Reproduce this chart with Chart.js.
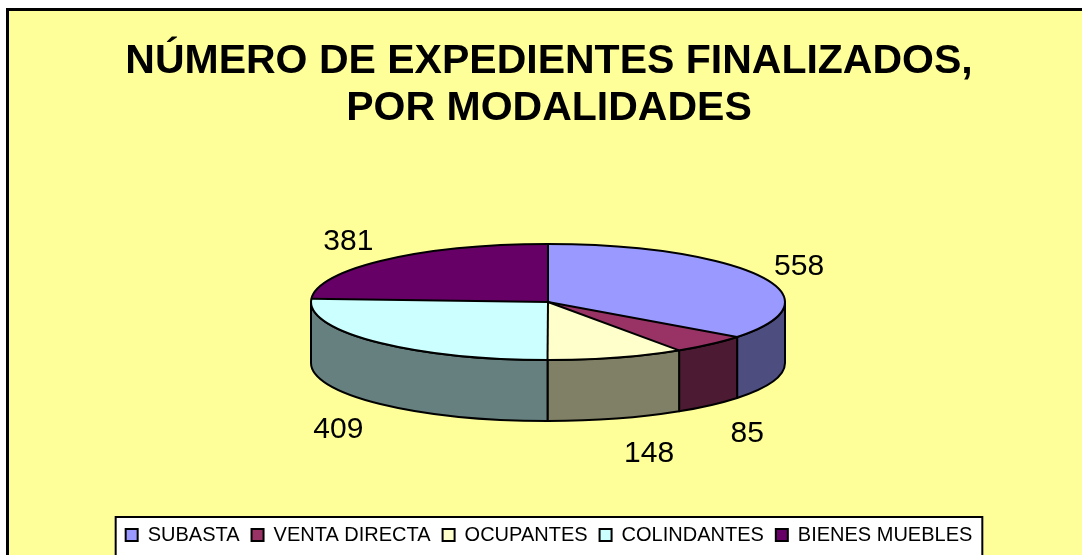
<!DOCTYPE html>
<html><head><meta charset="utf-8">
<script src="https://cdn.jsdelivr.net/npm/chart.js@4.4.0/dist/chart.umd.min.js"></script>
<style>html,body{margin:0;padding:0;background:#fff;overflow:hidden}#wrap{width:1082px;height:555px}</style>
</head><body><div id="wrap"><canvas id="c" width="1082" height="555"></canvas></div>
<script>
const categories = ['SUBASTA', 'VENTA DIRECTA', 'OCUPANTES', 'COLINDANTES', 'BIENES MUEBLES'];
const values = [558, 85, 148, 409, 381];
const topColors = ['#9999FF', '#993366', '#FFFFCC', '#CCFFFF', '#660066'];
const sideColors = ['#4D4D80', '#4D1A33', '#808066', '#668080', '#330033'];
const titleLines = ['NÚMERO DE EXPEDIENTES FINALIZADOS,', 'POR MODALIDADES'];

const FONT = '"Liberation Sans", Arial, Helvetica, sans-serif';
const geo = {cx: 548, cy: 302, rx: 237, ry: 58, depth: 61};

const panelPlugin = {
  id: 'panel',
  beforeDraw(chart) {
    const ctx = chart.ctx;
    ctx.save();
    ctx.fillStyle = '#fff';
    ctx.fillRect(0, 0, chart.width, chart.height);
    ctx.fillStyle = '#FFFF99';
    ctx.fillRect(8, 10, chart.width, chart.height);
    ctx.strokeStyle = '#000';
    ctx.lineWidth = 3;
    ctx.strokeRect(7.5, 9.5, chart.width + 20, chart.height + 20);
    const hb = chart.legend && chart.legend.legendHitBoxes;
    if (hb && hb.length) {
      const first = hb[0], last = hb[hb.length - 1];
      const l = first.left - 10, r = last.left + last.width + 10, t = first.top - 8;
      ctx.fillStyle = '#fff';
      ctx.fillRect(l, t, r - l, chart.height);
      ctx.lineWidth = 2;
      ctx.strokeRect(l, t, r - l, chart.height + 20);
    }
    ctx.restore();
  }
};

const pie3d = {
  id: 'pie3d',
  beforeDatasetsDraw(chart) {
    const ctx = chart.ctx;
    const arcs = chart.getDatasetMeta(0).data;
    const {cx, cy, rx, ry, depth} = geo;
    arcs.forEach((arc, i) => {
      const s = Math.max(arc.startAngle, 0), e = Math.min(arc.endAngle, Math.PI);
      if (e <= s) return;
      ctx.save();
      ctx.beginPath();
      ctx.ellipse(cx, cy, rx, ry, 0, s, e, false);
      ctx.lineTo(cx + rx * Math.cos(e), cy + ry * Math.sin(e) + depth);
      ctx.ellipse(cx, cy + depth, rx, ry, 0, e, s, true);
      ctx.closePath();
      ctx.fillStyle = sideColors[i];
      ctx.fill();
      ctx.lineWidth = 2;
      ctx.lineJoin = 'round';
      ctx.strokeStyle = '#000';
      ctx.stroke();
      ctx.restore();
    });
    const a0 = arcs[0];
    ctx.save();
    ctx.translate(cx, cy);
    ctx.scale(rx / a0.outerRadius, ry / a0.outerRadius);
    ctx.translate(-a0.x, -a0.y);
  },
  afterDatasetsDraw(chart) {
    const ctx = chart.ctx;
    ctx.restore();
    const arcs = chart.getDatasetMeta(0).data;
    const {cx, cy, rx, ry, depth} = geo;
    ctx.save();
    ctx.strokeStyle = '#000';
    ctx.lineWidth = 2;
    ctx.lineJoin = 'round';
    ctx.beginPath();
    ctx.ellipse(cx, cy, rx, ry, 0, 0, Math.PI * 2);
    ctx.stroke();
    arcs.forEach(arc => {
      const a = arc.startAngle;
      ctx.beginPath();
      ctx.moveTo(cx, cy);
      ctx.lineTo(cx + rx * Math.cos(a), cy + ry * Math.sin(a));
      ctx.stroke();
    });
    // value labels
    const data = chart.data.datasets[0].data;
    ctx.fillStyle = '#000';
    ctx.font = '30px ' + FONT;
    ctx.textAlign = 'center';
    ctx.textBaseline = 'middle';
    arcs.forEach((arc, i) => {
      const m = (arc.startAngle + arc.endAngle) / 2;
      const c = Math.cos(m), s = Math.sin(m);
      const px = cx + rx * c, py = cy + ry * s + (s > 0 ? depth : 0);
      const lx = px + c * 10 + Math.sign(c) * 30;
      const ly = py + s * 32 + 5;
      ctx.fillText(String(data[i]), lx, ly);
    });
    ctx.restore();
  }
};

new Chart(document.getElementById('c'), {
  type: 'pie',
  data: {
    labels: categories,
    datasets: [{data: values, backgroundColor: topColors, borderWidth: 0, clip: false}]
  },
  options: {
    responsive: false,
    animation: false,
    events: [],
    layout: {padding: {left: 16, right: 0, top: 38, bottom: 0}},
    plugins: {
      title: {
        display: true,
        text: titleLines,
        color: '#000',
        font: {family: FONT, size: 41, weight: 'bold', lineHeight: 1.15},
        padding: {top: 0, bottom: 10}
      },
      legend: {
        position: 'bottom',
        labels: {
          color: '#000',
          font: {family: FONT, size: 20},
          boxWidth: 12,
          boxHeight: 12,
          padding: 12,
          generateLabels: (chart) => chart.data.labels.map((t, i) => ({
            text: t, fillStyle: topColors[i], strokeStyle: '#000', lineWidth: 2,
            hidden: false, index: i, fontColor: '#000'
          }))
        }
      },
      tooltip: {enabled: false}
    }
  },
  plugins: [panelPlugin, pie3d]
});
</script>
</body></html>
